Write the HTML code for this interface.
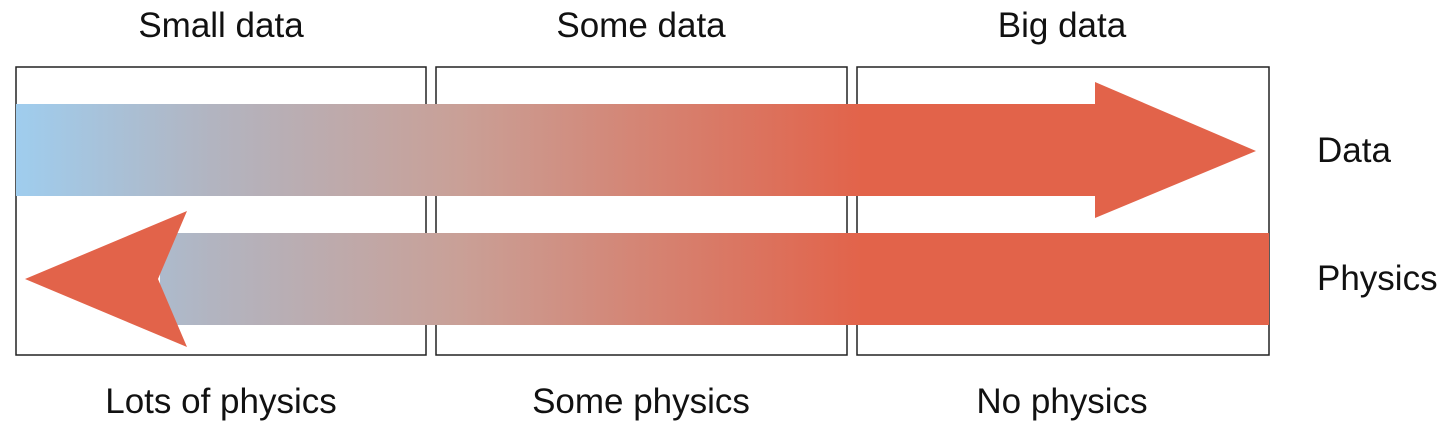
<!DOCTYPE html>
<html><head><meta charset="utf-8"><style>
html,body{margin:0;padding:0;background:#fff;}
svg{display:block;}
text{font-family:"Liberation Sans","DejaVu Sans",sans-serif;font-size:35px;fill:#111;}
</style></head><body>
<svg width="1450" height="431" viewBox="0 0 1450 431">
<defs>
<linearGradient id="g1" gradientUnits="userSpaceOnUse" x1="16" y1="0" x2="1000" y2="0">
<stop offset="0" stop-color="#9fcdee"/>
<stop offset="0.2" stop-color="#b2b4c0"/>
<stop offset="0.45" stop-color="#c9a097"/>
<stop offset="0.86" stop-color="#e2634a"/>
<stop offset="1" stop-color="#e2634a"/>
</linearGradient>
</defs>
<g fill="none" stroke="#222" stroke-width="1.5">
<rect x="16" y="67" width="410" height="288"/>
<rect x="436" y="67" width="411" height="288"/>
<rect x="857" y="67" width="412" height="288"/>
</g>
<path d="M16 104 H1095 V82 L1256 151 L1095 218 V196 H16 Z" fill="url(#g1)"/>
<path d="M160 233 H1269 V325 H160 Z" fill="url(#g1)"/>
<path d="M25 279 L187 211 L158 279 L187 347 Z" fill="#e2634a"/>
<text x="221" y="37" text-anchor="middle">Small data</text>
<text x="641" y="37" text-anchor="middle">Some data</text>
<text x="1062" y="37" text-anchor="middle">Big data</text>
<text x="221" y="413" text-anchor="middle">Lots of physics</text>
<text x="641" y="413" text-anchor="middle">Some physics</text>
<text x="1062" y="413" text-anchor="middle">No physics</text>
<text x="1317" y="162">Data</text>
<text x="1317" y="290">Physics</text>
</svg>
</body></html>
